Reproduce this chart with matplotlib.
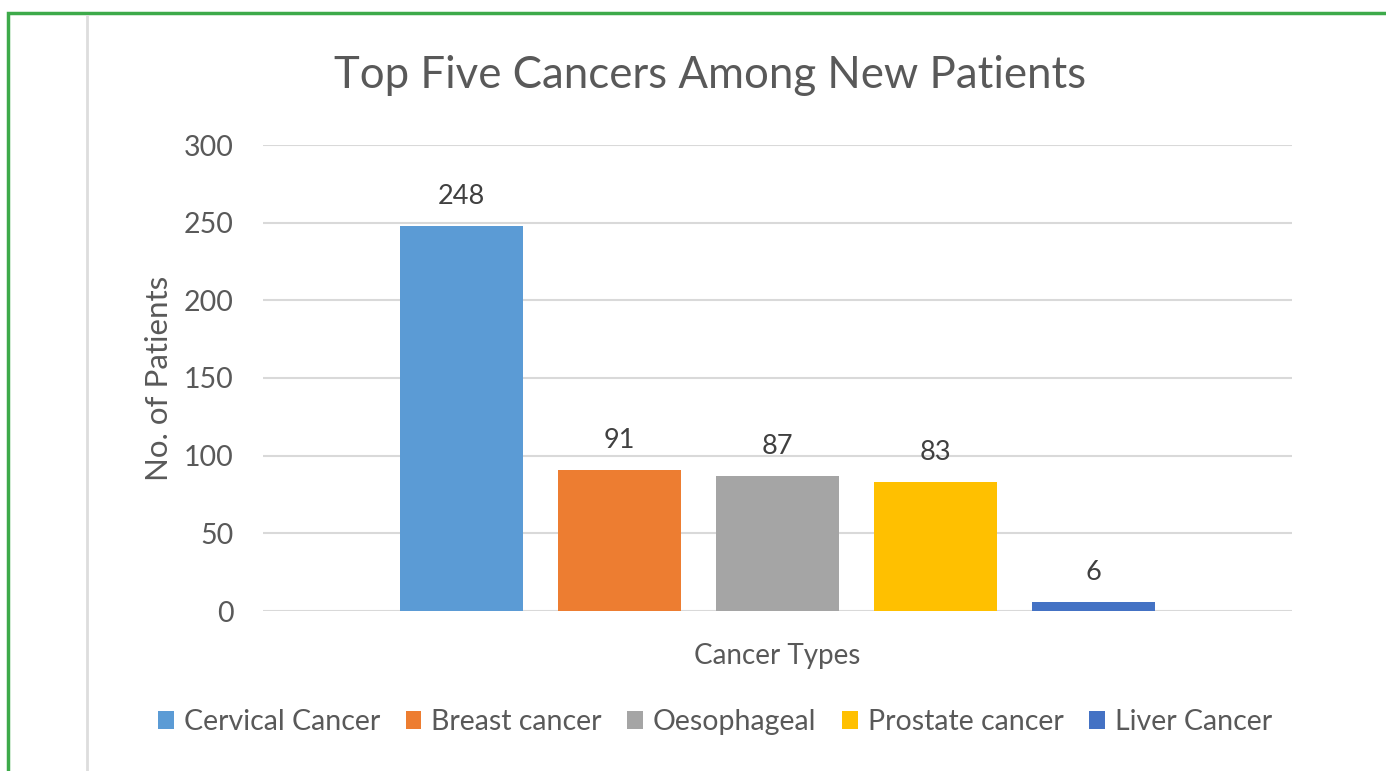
import matplotlib.pyplot as plt
from matplotlib.patches import Rectangle
from matplotlib.lines import Line2D

# data
cancer_types = ["Cervical Cancer", "Breast cancer", "Oesophageal", "Prostate cancer", "Liver Cancer"]
patients = [248, 91, 87, 83, 6]
bar_colors = ["#5B9BD5", "#ED7D31", "#A5A5A5", "#FFC000", "#4472C4"]
y_ticks = [0, 50, 100, 150, 200, 250, 300]

text_color = "#595959"
plt.rcParams["font.family"] = ["Lato", "DejaVu Sans"]

fig = plt.figure(figsize=(13.86, 7.71), dpi=100)
fig.patch.set_facecolor("white")

# frame decorations
fig.add_artist(Rectangle((8 / 1386, -0.05), 1.1, (771 - 13) / 771 + 0.05,
                         transform=fig.transFigure, fill=False,
                         edgecolor="#3DAA4A", linewidth=2.5))
fig.add_artist(Line2D([87 / 1386, 87 / 1386], [0, (771 - 16) / 771],
                      transform=fig.transFigure, color="#DDDDDD", linewidth=2))

ax = fig.add_axes([263 / 1386, (771 - 611) / 771, (1292 - 263) / 1386, (611 - 145) / 771])

x = list(range(len(patients)))
bars = ax.bar(x, patients, width=0.783, color=bar_colors, zorder=3)
for xi, v in zip(x, patients):
    ax.text(xi, v + 11, str(v), ha="center", va="bottom", fontsize=19.5, color="#404040")

ax.set_xlim(-1.257, 5.257)
ax.set_ylim(0, 300)
ax.set_yticks(y_ticks)
ax.set_xticks([])
ax.yaxis.grid(True, color="#D9D9D9", linewidth=1.5, zorder=0)
ax.tick_params(axis="y", length=0, pad=21, labelsize=20.5, labelcolor=text_color)
for s in ax.spines.values():
    s.set_visible(False)

ax.set_ylabel("No. of Patients", fontsize=22.5, color=text_color, labelpad=8)
ax.set_xlabel("Cancer Types", fontsize=20, color=text_color, labelpad=23)

fig.text(710 / 1386, (771 - 75) / 771, "Top Five Cancers Among New Patients",
         ha="center", va="center", fontsize=31.5, color=text_color)

leg = fig.legend(bars, cancer_types, loc="center", bbox_to_anchor=(715 / 1386, (771 - 722) / 771),
                 ncol=5, frameon=False, fontsize=20.5, handlelength=0.55, handleheight=0.55,
                 handletextpad=0.35, columnspacing=0.9, labelcolor=text_color)

plt.savefig("out.png", dpi=100)
